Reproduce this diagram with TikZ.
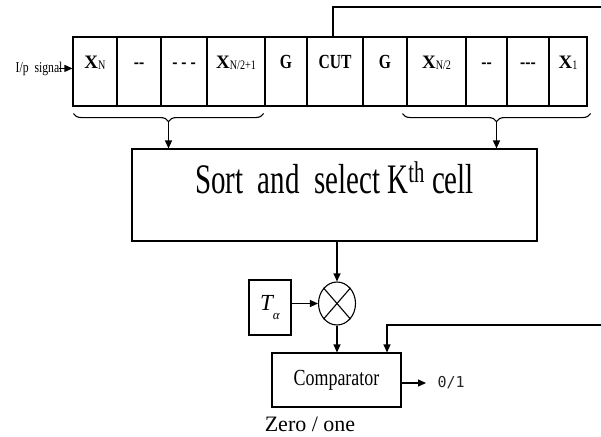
\documentclass[tikz,border=0pt]{standalone}
\usepackage{fontspec}
\setmainfont{Liberation Serif}
\newfontfamily\condserif[FakeStretch=0.78]{Liberation Serif}
\newfontfamily\tallserif[FakeStretch=0.69]{Liberation Serif}
\newfontfamily\monofont{DejaVu Sans Mono}
\usetikzlibrary{arrows.meta,positioning,shapes.geometric,decorations.pathreplacing}

\tikzset{
  cell/.style={draw, minimum height=69pt, inner sep=0pt, text height=13pt, text depth=20pt,
    font=\condserif\bfseries\fontsize{20}{20}\selectfont},
  blk/.style={draw, inner sep=0pt},
  arr/.style={-{Triangle[length=8pt,width=7pt]}},
  curly/.style={decorate, decoration={brace, mirror, amplitude=8pt}},
}
\newcommand{\xsym}[1]{{\rmfamily\bfseries\fontsize{19}{19}\selectfont X}\raisebox{-1pt}{\mdseries\fontsize{13}{13}\selectfont #1}}

\begin{document}
\begin{tikzpicture}[x=1pt, y=1pt, line width=1.1pt]
\useasboundingbox (0,0) rectangle (601,-436);
% shift register cells
\node [cell, minimum width=44pt] (xn) at (95,-71.5) {\xsym{N}};
\node [cell, minimum width=44pt] (da) at (139,-71.5) {-{}-};
\node [cell, minimum width=46pt] (db) at (184,-71.5) {- - -};
\node [cell, minimum width=58pt] (xh) at (236,-71.5) {\xsym{N/2+1}};
\node [cell, minimum width=42pt] (ga) at (286,-71.5) {G};
\node [cell, minimum width=56pt] (cut) at (335,-71.5) {CUT};
\node [cell, minimum width=44pt] (gb) at (385,-71.5) {G};
\node [cell, minimum width=59pt] (xm) at (436.5,-71.5) {\xsym{N/2}};
\node [cell, minimum width=41pt] (dc) at (486.5,-71.5) {-{}-};
\node [cell, minimum width=42pt] (dd) at (528,-71.5) {-{}-{}-};
\node [cell, minimum width=38pt] (xo) at (568,-71.5) {\xsym{1}};
% input
\node [anchor=base east, inner sep=0pt, font=\condserif\fontsize{15}{15}\selectfont] (ip) at (63,-72) {I/p\ \ signal};
\draw [arr] ([xshift=-4pt]ip.east) -- (ip.east -| xn.west);
% braces
\draw [curly] ([xshift=1pt,yshift=-7pt]xn.south west) -- ([xshift=-2pt,yshift=-7pt]xh.south east);
\draw [curly] ([xshift=-4pt,yshift=-7pt]xm.south west) -- ([xshift=3pt,yshift=-7pt]xo.south east);
\coordinate (ltip) at (168.5,-121);
\coordinate (rtip) at (496.5,-121);
% sort block
\node [blk, minimum width=405pt, minimum height=92pt, text height=30pt, text depth=34pt,
  font=\tallserif\fontsize{42}{42}\selectfont] (sort) at (334.5,-195)
  {Sort\ \ and\ \ select K\raisebox{1pt}{\textsuperscript{\fontsize{30}{30}\selectfont th}}\,cell};
\draw [arr] (ltip) -- (ltip |- sort.north);
\draw [arr] (rtip) -- (rtip |- sort.north);
% threshold and multiplier
\node [draw, ellipse, minimum width=37pt, minimum height=43pt, inner sep=0pt] (mult) at (337,-303.5) {};
\draw (mult.north west) -- (mult.south east);
\draw (mult.north east) -- (mult.south west);
\node [blk, minimum width=42pt, minimum height=55pt, font=\fontsize{23}{23}\selectfont] (talpha) at (270,-307.5)
  {\itshape T\raisebox{-9pt}{\fontsize{13}{13}\selectfont α}};
\draw [arr] (sort.south -| mult.north) -- (mult.north);
\draw [arr] (talpha.east |- mult.west) -- (mult.west);
% comparator
\node [blk, minimum width=129pt, minimum height=54pt, font=\condserif\fontsize{23}{23}\selectfont] (comp) at (336.5,-380) {Comparator};
\draw [arr] (mult.south) -- (comp.north -| mult.south);
\coordinate (fbtop) at (601,-7);
\coordinate (fbin) at (601,-325);
\draw (cut.north -| 333,0) |- (fbtop);
\draw [arr] (fbin) -| ([xshift=50.5pt]comp.north);
\node [anchor=west, inner sep=0pt, font=\monofont\fontsize{15}{15}\selectfont, text=black!85] (bin) at (437,-383) {0/1};
\draw [arr] (comp.east |- bin.west) -- ([xshift=-11pt]bin.west);
\node [anchor=base, inner sep=0pt, font=\fontsize{22}{22}\selectfont] (zo) at (310,-431) {Zero / one};
\end{tikzpicture}
\end{document}
